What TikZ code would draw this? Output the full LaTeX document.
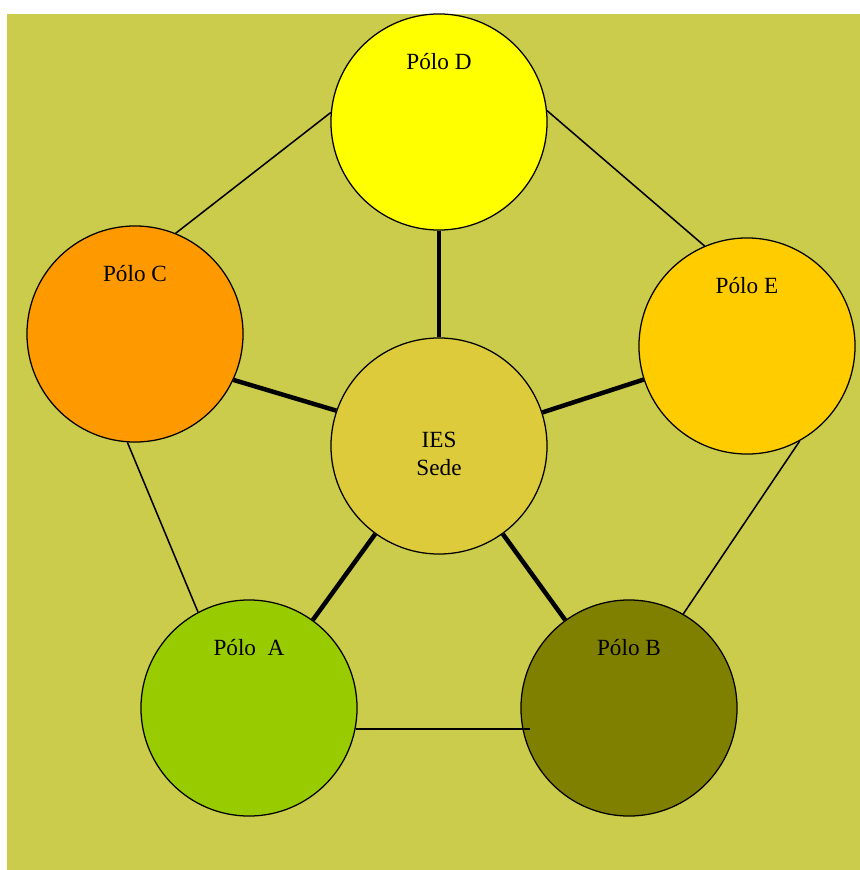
\documentclass[tikz,border=0pt]{standalone}
\usepackage{fontspec}
\setmainfont{Liberation Serif}
\usetikzlibrary{calc}
\definecolor{BackClr}{RGB}{204,204,76}
\definecolor{SedeClr}{RGB}{221,203,59}
\definecolor{PoleAClr}{RGB}{153,204,0}
\definecolor{PoleBClr}{RGB}{128,128,0}
\definecolor{PoleCClr}{RGB}{255,153,0}
\definecolor{PoleDClr}{RGB}{255,255,0}
\definecolor{PoleEClr}{RGB}{255,204,0}

\begin{document}
\begin{tikzpicture}[x=0.025cm,y=-0.025cm,
  pole/.style={circle,draw=black,line width=0.9pt,minimum size=5.4cm,inner sep=0pt},
  polelabel/.style={yshift=1.5cm,font=\fontsize{16.5}{20}\selectfont},
  thinlink/.style={line width=1.1pt,color=black},
  thicklink/.style={line width=3.2pt,color=black}]
\useasboundingbox (0,0) rectangle (860,870);
\fill[BackClr] (7,14) rectangle (860,870);

\node[pole,fill=SedeClr,label={[yshift=-0.2cm,align=center,font=\fontsize{16.5}{20}\selectfont]center:IES\\Sede}] (S) at (439,446) {};
\node[pole,fill=PoleDClr,label={[polelabel]center:Pólo D}] (D) at (439,122) {};
\node[pole,fill=PoleCClr,label={[polelabel]center:Pólo C}] (C) at (135,334) {};
\node[pole,fill=PoleEClr,label={[polelabel]center:Pólo E}] (E) at (747,346) {};
\node[pole,fill=PoleAClr,label={[polelabel]center:Pólo\ \ A}] (A) at (249,708) {};
\node[pole,fill=PoleBClr,label={[polelabel]center:Pólo B}] (B) at (629,708) {};

\draw[thicklink] (S) -- (D);
\draw[thicklink] (S.161) -- (C.335);
\draw[thicklink] (S) -- (E);
\draw[thicklink] (S) -- (A);
\draw[thicklink] (S) -- (B);

\draw[thinlink] (D.175) -- (C.68);
\draw[thinlink] (D.6) -- (E.113);
\draw[thinlink] (C.266) -- (A.118);
\draw[thinlink] (E.299) -- (B.60);
\draw[thinlink,shorten >=-0.2cm] (A.349) -- (B.191);

\end{tikzpicture}
\end{document}
